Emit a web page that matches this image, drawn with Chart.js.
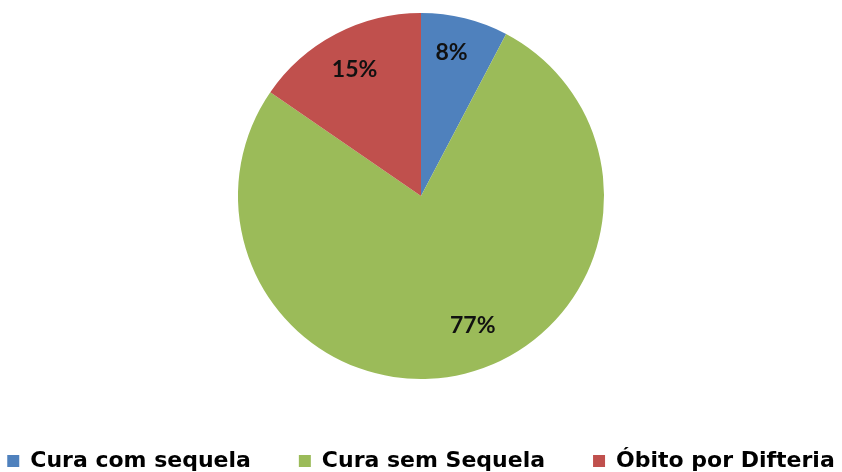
<!DOCTYPE html>
<html>
<head>
<meta charset="utf-8">
<script src="https://cdn.jsdelivr.net/npm/chart.js@4/dist/chart.umd.min.js"></script>
<style>
  html, body { margin: 0; padding: 0; background: #fff; }
  #wrap { width: 842px; height: 472px; position: relative; }
</style>
</head>
<body>
<div id="wrap"><canvas id="pie"></canvas></div>
<script>
// data (percent of cases)
const categories = ["Cura com sequela", "Cura sem Sequela", "Óbito por Difteria"];
const shares = [7.7, 76.9, 15.4];
const colors = ["#4F81BD", "#9BBB59", "#C0504D"];

// where Excel put the in-slice labels (fraction of radius, angle nudge in degrees)
const labelRadius = [0.80, 0.76, 0.78];
const labelShift = [-1.8, -8, 0];
const labelFont = "bold 23px Lato";

const sliceLabels = {
  id: "sliceLabels",
  afterDatasetsDraw(chart) {
    const ctx = chart.ctx;
    const meta = chart.getDatasetMeta(0);
    ctx.save();
    ctx.font = labelFont;
    ctx.fillStyle = "#111";
    ctx.textAlign = "center";
    ctx.textBaseline = "middle";
    meta.data.forEach((arc, i) => {
      const p = arc.getProps(["x", "y", "startAngle", "endAngle", "outerRadius"], true);
      const mid = (p.startAngle + p.endAngle) / 2 + labelShift[i] * Math.PI / 180;
      const r = p.outerRadius * labelRadius[i];
      ctx.fillText(Math.round(shares[i]) + "%", p.x + Math.cos(mid) * r, p.y + Math.sin(mid) * r);
    });
    ctx.restore();
  }
};

function draw() {
  new Chart(document.getElementById("pie"), {
    type: "pie",
    data: {
      labels: categories,
      datasets: [{
        data: shares,
        backgroundColor: colors,
        borderWidth: 0,
        radius: 183
      }]
    },
    options: {
      responsive: true,
      maintainAspectRatio: false,
      animation: false,
      layout: { padding: { top: 0, bottom: -10, left: 0, right: 0 } },
      plugins: {
        tooltip: { enabled: false },
        legend: {
          position: "bottom",
          title: { display: true, text: "", font: { size: 10 }, padding: { top: 44, bottom: 0 } },
          labels: {
            boxWidth: 12,
            boxHeight: 12,
            padding: 2,
            color: "#000",
            font: { family: "'DejaVu Sans'", size: 22, weight: "bold" },
            // wide gaps between entries, like the original legend
            generateLabels(chart) {
              const items = Chart.overrides.pie.plugins.legend.labels.generateLabels(chart);
              items.forEach((it, i) => { if (i < items.length - 1) it.text += "      "; });
              return items;
            }
          }
        }
      }
    },
    plugins: [sliceLabels]
  });
}

Promise.all([
  document.fonts.load(labelFont, "0123456789%"),
  document.fonts.load("bold 22px 'DejaVu Sans'", "Cura")
]).then(draw, draw);
</script>
</body>
</html>
